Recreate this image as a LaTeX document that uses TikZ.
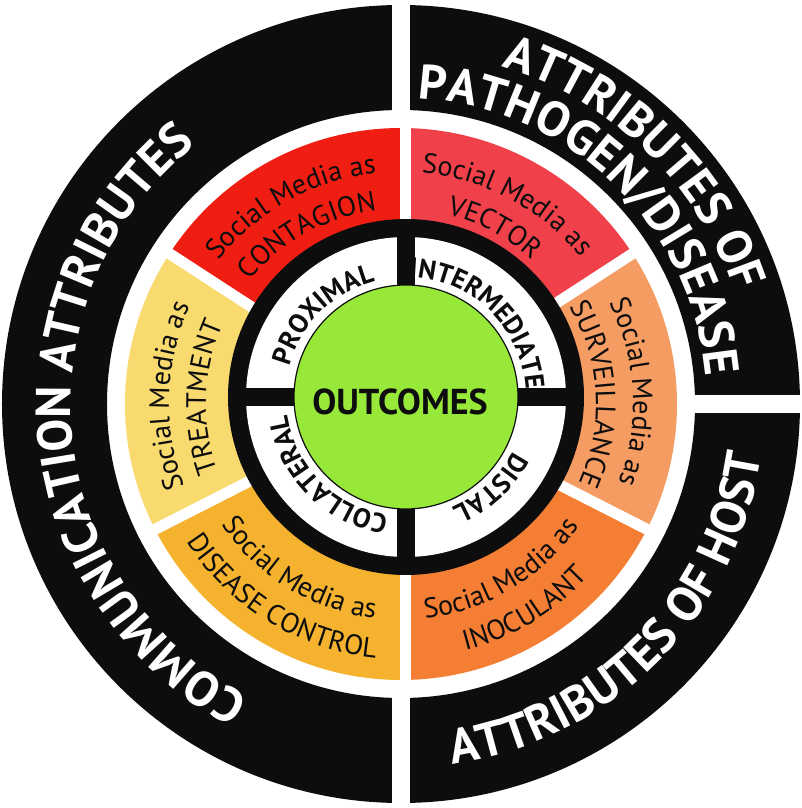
\documentclass[tikz,border=0pt]{standalone}
\usepackage{fontspec}
\setmainfont{PT Sans}
\usetikzlibrary{calc,decorations.text}
\definecolor{ink}{HTML}{0D0D0D}
\definecolor{contagion}{HTML}{F01E12}
\definecolor{vector}{HTML}{F0404A}
\definecolor{surveil}{HTML}{F59C63}
\definecolor{inoculant}{HTML}{F47E34}
\definecolor{control}{HTML}{F5B22F}
\definecolor{treatment}{HTML}{F8DA6E}
\definecolor{outcome}{HTML}{98E83A}
\newcommand{\rimfont}{\fontsize{49}{49}\selectfont\bfseries}
\newcommand{\bandfont}{\fontsize{28}{28}\selectfont}
\newcommand{\hubfont}{\fontsize{27}{27}\selectfont\bfseries}
\newcommand{\wedgefill}[3]{\fill[#1] (O) -- (#2:276) arc[start angle=#2,end angle=#3,radius=276] -- cycle;}
\newcommand{\arctext}[6]{\path[shift={(#1)},decorate,decoration={text along path,text align=center,text color=#6,text={#5}}] (#3:#2) arc[start angle=#3,end angle=#4,radius=#2];}

\begin{document}
\begin{tikzpicture}[x=1pt,y=1pt]
\fill[white] (-401,-404) rectangle (400,404);
\useasboundingbox (-401,-404) rectangle (400,404);
\coordinate (O) at (0,0);
\coordinate (H) at (5,7);
% outer rim
\fill[ink,even odd rule] (O) circle (399) (O) circle (294);
\fill[white] (-9,280) rectangle (9,410);
\fill[white] (-9,-410) rectangle (9,-280);
\fill[white] (280,-9) rectangle (410,9);
% coloured band
\wedgefill{vector}{33}{90}
\wedgefill{contagion}{90}{147}
\wedgefill{treatment}{147}{207}
\wedgefill{control}{207}{270}
\wedgefill{inoculant}{270}{333}
\wedgefill{surveil}{-27}{33}
\foreach \a in {33,147,207,333}
  \draw[white,line width=11] (O) -- (\a:285);
\draw[white,line width=11] (4.5,-285) -- (4.5,285);
% hub
\fill[ink] (H) circle (178);
\fill[white] (H) circle (160);
\fill[ink] ($(H)+(-9,-161)$) rectangle ($(H)+(9,161)$);
\fill[ink] ($(H)+(-161,-9)$) rectangle ($(H)+(161,9)$);
\filldraw[fill=outcome,draw=ink,line width=1.2] (H) circle (112);
\node[font=\fontsize{36}{36}\selectfont\bfseries,text=ink] (outcomes) at (-1,2) {OUTCOMES};
% rim labels
\arctext{O}{330}{265.5}{105.5}{|\rimfont|COMMUNICATION ATTRIBUTES}{white}
\arctext{O}{352}{116}{-24}{|\rimfont|ATTRIBUTES OF}{white}
\arctext{O}{306}{116}{-24}{|\rimfont|PATHOGEN/DISEASE}{white}
\arctext{O}{364}{-115}{25}{|\rimfont|ATTRIBUTES OF HOST}{white}
% band labels
\arctext{O}{232}{179}{59}{|\bandfont|Social Media as}{ink}
\arctext{O}{195}{179}{59}{|\bandfont|CONTAGION}{ink}
\arctext{O}{232}{122}{2}{|\bandfont|Social Media as}{ink}
\arctext{O}{195}{122}{2}{|\bandfont|VECTOR}{ink}
\arctext{O}{232}{238}{118}{|\bandfont|Social Media as}{ink}
\arctext{O}{195}{238}{118}{|\bandfont|TREATMENT}{ink}
\arctext{O}{232}{63}{-57}{|\bandfont|Social Media as}{ink}
\arctext{O}{195}{63}{-57}{|\bandfont|SURVEILLANCE}{ink}
\arctext{O}{216}{178.5}{298.5}{|\bandfont|Social Media as}{ink}
\arctext{O}{255}{178.5}{298.5}{|\bandfont|DISEASE CONTROL}{ink}
\arctext{O}{216}{241}{361}{|\bandfont|Social Media as}{ink}
\arctext{O}{255}{241}{361}{|\bandfont|INOCULANT}{ink}
% hub labels
\arctext{H}{120}{205}{65}{|\hubfont|PROXIMAL}{ink}
\arctext{H}{120}{116}{-24}{|\hubfont|INTERMEDIATE}{ink}
\arctext{H}{120}{23}{-117}{|\hubfont|DISTAL}{ink}
\arctext{H}{120}{295}{155}{|\hubfont|COLLATERAL}{ink}
\end{tikzpicture}
\end{document}
